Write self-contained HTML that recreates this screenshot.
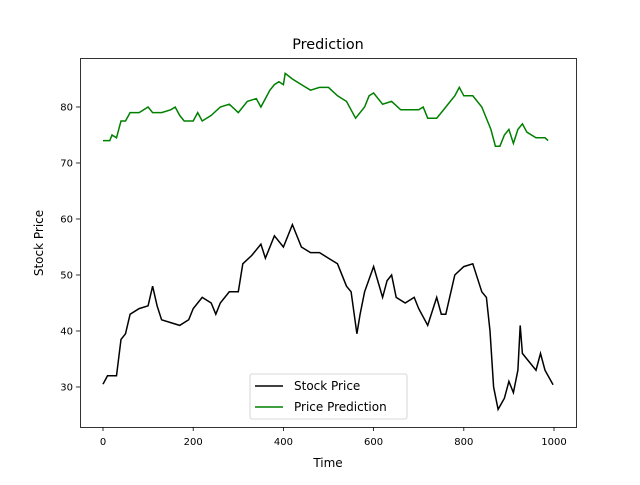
<!DOCTYPE html>
<html><head><meta charset="utf-8"><style>
body{margin:0;background:#fff}
svg text{font-family:"DejaVu Sans","Liberation Sans",sans-serif}
</style></head><body>
<svg id="chart" width="640" height="480" xmlns="http://www.w3.org/2000/svg">
<rect width="640" height="480" fill="#fff"/>
<text x="328" y="49" font-size="14.4" text-anchor="middle">Prediction</text>
<g id="marks"></g>
<rect x="80.5" y="58.5" width="496" height="369" fill="none" stroke="#000" stroke-width="0.8"/>
<g id="xticks"></g><g id="yticks"></g>
<text x="328" y="467" font-size="12" text-anchor="middle">Time</text>
<text transform="translate(43,243) rotate(-90)" font-size="12" text-anchor="middle">Stock Price</text>
<g>
<rect x="250" y="374" width="157" height="45" rx="2" fill="#fff" fill-opacity="0.8" stroke="#ccc" stroke-width="0.8"/>
<line x1="255" y1="386" x2="283" y2="386" stroke="#000" stroke-width="1.5"/>
<text x="294" y="390" font-size="12">Stock Price</text>
<line x1="255" y1="407" x2="283" y2="407" stroke="green" stroke-width="1.5"/>
<text x="294" y="411" font-size="12">Price Prediction</text>
</g>
</svg>
<script>
const stockX=[0,10,20,30,40,50,60,80,100,110,120,130,150,170,190,200,220,240,250,260,280,300,310,330,350,360,380,400,420,440,460,480,500,520,540,550,563,570,580,600,620,630,640,650,670,690,700,720,740,750,760,780,800,820,840,850,858,866,876,890,900,910,920,925,930,940,960,970,980,998];
const stockY=[30.5,32,32,32,38.5,39.5,43,44,44.5,48,44.5,42,41.5,41,42,44,46,45,43,45,47,47,52,53.5,55.5,53,57,55,59,55,54,54,53,52,48,47,39.5,43,47,51.5,46,49,50,46,45,46,44,41,46,43,43,50,51.5,52,47,46,40,30,26,28,31,29,33,41,36,35,33,36,33,30.4];
const predX=[0,15,20,30,40,50,60,80,100,110,130,150,160,170,180,200,210,220,240,260,280,300,320,340,350,360,370,380,390,400,404,420,440,460,480,500,520,540,560,580,590,600,620,640,660,680,700,710,720,740,750,760,770,780,790,800,820,840,860,870,880,890,900,910,920,930,940,960,980,987];
const predY=[74,74,75,74.5,77.5,77.5,79,79,80,79,79,79.5,80,78.5,77.5,77.5,79,77.5,78.5,80,80.5,79,81,81.5,80,81.5,83,84,84.5,84,86,85,84,83,83.5,83.5,82,81,78,80,82,82.5,80.5,81,79.5,79.5,79.5,80,78,78,79,80,81,82,83.5,82,82,80,76,73,73,75,76,73.5,76,77,75.5,74.5,74.5,74];
const xTicks=[0,200,400,600,800,1000];
const yTicks=[30,40,50,60,70,80];
const sx=v=>103+v*0.451, sy=v=>387-(v-30)*5.6;
const NS="http://www.w3.org/2000/svg";
const marks=document.getElementById('marks');
function line(xs,ys,color,name){
  const p=document.createElementNS(NS,'polyline');
  p.setAttribute('points',xs.map((x,i)=>sx(x).toFixed(1)+','+sy(ys[i]).toFixed(1)).join(' '));
  p.setAttribute('fill','none');p.setAttribute('stroke',color);p.setAttribute('stroke-width','1.5');
  
  
  marks.appendChild(p);
}
line(stockX,stockY,'#000','stock-price-line');
line(predX,predY,'green','price-prediction-line');
const xg=document.getElementById('xticks');
xTicks.forEach(t=>{
  const g=document.createElementNS(NS,'g');
  
  
  const x=sx(t);
  g.innerHTML=`<line x1="${x}" y1="427" x2="${x}" y2="431" stroke="#000" stroke-width="0.8"/><text x="${x}" y="445" font-size="10" text-anchor="middle">${t}</text>`;
  xg.appendChild(g);
});
const yg=document.getElementById('yticks');
yTicks.forEach(t=>{
  const g=document.createElementNS(NS,'g');
  
  
  const y=sy(t);
  g.innerHTML=`<line x1="76" y1="${y}" x2="80" y2="${y}" stroke="#000" stroke-width="0.8"/><text x="73" y="${y+3.5}" font-size="10" text-anchor="end">${t}</text>`;
  yg.appendChild(g);
});
</script>
</body></html>
